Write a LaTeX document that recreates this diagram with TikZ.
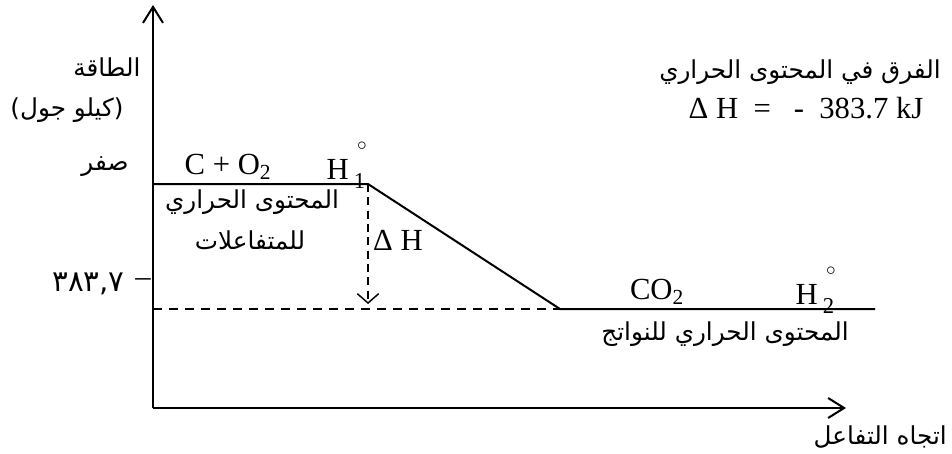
\documentclass[tikz,border=0pt]{standalone}
\usepackage{fontspec}
\setmainfont{Liberation Serif}
\newfontfamily\arabicfont[Script=Arabic]{DejaVu Sans}
\TeXXeTstate=1
\usetikzlibrary{arrows.meta}
\newcommand{\artext}[1]{{\arabicfont\beginR #1\endR}}
\newcommand{\Hdeg}[1]{H\,\makebox[0pt][l]{\hspace{0.1em}\raisebox{0.95em}{\fontsize{15}{15}\selectfont$\circ$}}\raisebox{-0.3em}{\fontsize{17}{17}\selectfont #1}}

\begin{document}
\begin{tikzpicture}[x=0.75pt,y=-0.75pt,
    axis/.style={line width=1.5pt,-{Straight Barb[length=12pt,width=15pt]}},
    level/.style={line width=1.5pt},
    lat/.style={font=\fontsize{23}{26}\selectfont,inner sep=0pt},
    arb/.style={font=\arabicfont\fontsize{18.5}{22}\selectfont,inner sep=0pt}]
  \useasboundingbox (0,0) rectangle (952,453);
  % axes
  \coordinate (o) at (153,408);
  \coordinate (ytip) at (153,5);
  \coordinate (xtip) at (846,408);
  \draw[axis] (o) -- (ytip);
  \draw[axis] (o) -- (xtip);
  % energy levels
  \coordinate (r0) at (153,184);
  \coordinate (r1) at (368,184);
  \coordinate (p0) at (560,309);
  \coordinate (p1) at (875,309);
  \coordinate (d0) at (153,309);
  \coordinate (dh) at (368,304);
  \draw[level] (r0) -- (r1) -- (p0) -- (p1);
  \draw[line width=1.1pt,dash pattern=on 7pt off 5pt] (d0) -- (p0);
  \draw[line width=1.1pt,dash pattern=on 6pt off 4pt,
    -{Straight Barb[length=7pt,width=16pt]}] (r1) -- (dh);
  % axis labels
  \node[arb] (energy) at (107,67) {\artext{الطاقة}};
  \node[arb] (unit) at (67,110) {\artext{(كيلو جول)}};
  \node[arb] (zero) at (105,167) {\artext{صفر}};
  \node[lat,anchor=east] (tick) at (151,283) {–};
  \node[arb,font=\arabicfont\fontsize{22}{24}\selectfont,anchor=east]
    (val) at (125,284) {٣٨٣,٧};
  \node[arb,anchor=east] (dir) at (947,437) {\artext{اتجاه التفاعل}};
  % reactants
  \node[lat] (react) at (228,167) {C + O\textsubscript{2}};
  \node[lat] (h1) at (346,165) {\Hdeg{1}};
  \node[arb] (rtxt1) at (252,202) {\artext{المحتوى الحراري}};
  \node[arb] (rtxt2) at (250,240) {\artext{للمتفاعلات}};
  \node[lat] (dH) at (398,240) {Δ H};
  % products
  \node[lat] (prod) at (657,292) {CO\textsubscript{2}};
  \node[lat] (h2) at (815,290) {\Hdeg{2}};
  \node[arb] (ptxt) at (725,334) {\artext{المحتوى الحراري للنواتج}};
  % difference
  \node[arb] (diff) at (800,72) {\artext{الفرق في المحتوى الحراري}};
  \node[lat] (dHval) at (806,108) {Δ H~~=~~~-~~383.7 kJ};
\end{tikzpicture}
\end{document}
